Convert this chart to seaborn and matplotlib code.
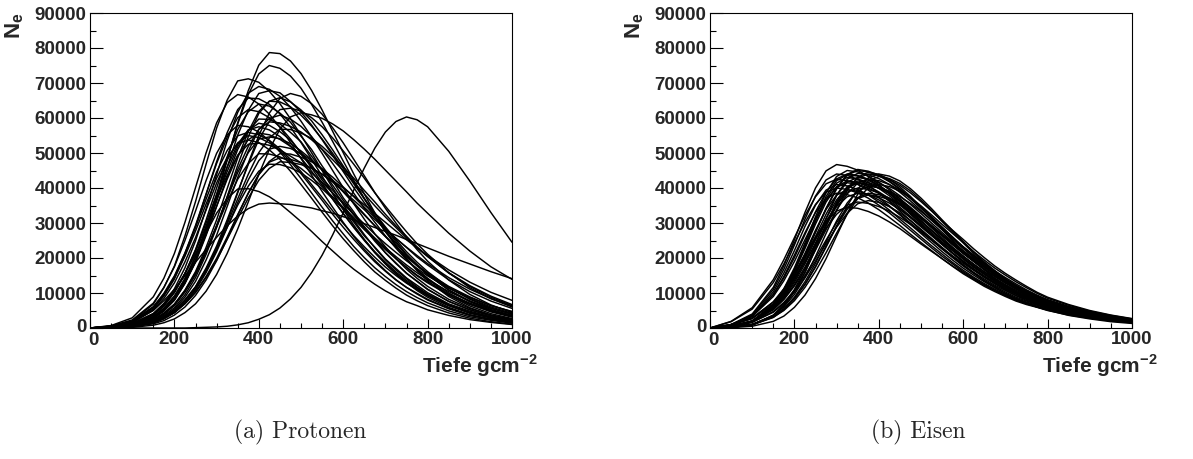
import matplotlib
matplotlib.use("Agg")
import matplotlib.pyplot as plt
import matplotlib.transforms as mtransforms
import pandas as pd
import seaborn as sns
from matplotlib.ticker import MultipleLocator

# atmospheric depth grid (g/cm^2)
depth = [0, 50, 100, 150, 175, 200, 225, 250, 275, 300, 325, 350, 375, 400, 425, 450, 475,
         500, 525, 550, 575, 600, 625, 650, 675, 700, 725, 750, 775, 800, 850, 900, 950, 1000]

# ---- proton showers: N_e in units of 1000 ----
p01 = [0, 0.2, 0.8, 2.8, 5.0, 8.1, 12.9, 19.2, 27.6, 37.2, 47.9, 58.6, 67.8, 75.1, 78.7, 78.4, 76.3, 72.7, 67.9, 62.3, 56.2, 50.1, 44.0, 38.3, 32.9, 28.0, 23.6, 19.8, 16.4, 13.5, 9.0, 5.8, 3.7, 2.4]
p02 = [0, 0.2, 0.9, 3.1, 5.4, 8.7, 13.7, 20.3, 28.6, 38.1, 48.4, 58.3, 66.7, 72.6, 75.0, 74.2, 72.0, 68.5, 63.9, 58.8, 53.3, 47.7, 42.2, 37.0, 32.0, 27.5, 23.5, 19.9, 16.6, 14.1, 9.4, 6.3, 4.1, 2.7]
p03 = [0, 0.5, 2.0, 6.8, 11.5, 17.7, 26.3, 36.1, 46.8, 57.1, 65.1, 70.6, 71.2, 70.2, 67.6, 64.1, 59.8, 55.1, 50.1, 45.0, 40.0, 35.3, 30.8, 26.7, 22.9, 19.5, 16.6, 14.1, 11.7, 9.7, 6.6, 4.4, 3.0, 1.9]
p04 = [0, 0.7, 2.9, 8.9, 14.2, 21.3, 30.2, 40.1, 50.0, 58.6, 64.4, 66.7, 66.0, 64.0, 61.1, 57.3, 53.0, 48.4, 43.7, 39.0, 34.5, 30.2, 26.1, 22.5, 19.3, 16.4, 13.8, 11.6, 9.7, 8.0, 5.5, 3.6, 2.4, 1.5]
p05 = [0, 0.3, 1.2, 4.1, 6.9, 11.2, 17.2, 24.9, 34.0, 43.8, 53.5, 61.6, 67.1, 69.0, 68.2, 66.2, 63.1, 59.1, 54.6, 49.9, 45.0, 40.1, 35.5, 31.1, 26.9, 23.2, 19.8, 16.8, 14.2, 11.9, 8.2, 5.6, 3.7, 2.5]
p06 = [0, 0.1, 0.7, 2.6, 4.8, 7.9, 12.7, 18.9, 27.0, 36.2, 45.9, 55.1, 62.2, 67.0, 67.8, 67.2, 64.7, 61.7, 58.0, 53.8, 49.3, 44.7, 40.1, 35.8, 31.7, 27.7, 24.2, 20.8, 17.8, 15.2, 10.9, 7.7, 5.3, 3.6]
p07 = [0, 0.1, 0.4, 1.5, 2.7, 4.5, 7.3, 11.1, 16.2, 22.6, 30.2, 38.6, 47.1, 55.0, 61.4, 65.6, 67.0, 66.2, 64.1, 61.1, 57.2, 52.9, 48.2, 43.5, 38.7, 34.2, 30.0, 26.0, 22.4, 19.1, 13.7, 9.6, 6.6, 4.4]
p08 = [0, 0.1, 0.7, 2.3, 4.2, 6.8, 10.8, 16.1, 23.0, 30.9, 39.8, 48.6, 56.1, 61.9, 64.8, 64.6, 63.2, 60.8, 57.7, 54.0, 49.9, 45.6, 41.2, 36.9, 32.8, 28.9, 25.2, 21.8, 18.8, 16.1, 11.6, 8.2, 5.7, 3.9]
p09 = [0, 0.2, 1.0, 3.6, 6.2, 10.1, 15.5, 22.4, 30.8, 40.0, 48.9, 56.7, 61.8, 64.0, 63.4, 61.4, 58.8, 54.8, 51.0, 46.3, 42.1, 37.2, 33.2, 28.8, 25.3, 21.5, 18.6, 15.6, 13.4, 11.1, 7.6, 5.2, 3.5, 2.3]
p10 = [0, 0.1, 0.5, 1.7, 3.1, 5.0, 8.0, 11.8, 17.1, 23.4, 30.9, 38.9, 46.7, 53.9, 59.0, 62.4, 62.8, 62.0, 60.1, 57.5, 54.3, 50.6, 46.8, 42.8, 38.6, 34.8, 31.1, 27.5, 24.1, 21.1, 15.8, 11.5, 8.4, 6.0]
p11 = [0, 0.0, 0.2, 0.8, 1.5, 2.6, 4.4, 6.9, 10.5, 15.3, 21.3, 28.3, 36.0, 43.9, 51.0, 56.8, 60.3, 61.5, 60.9, 59.9, 58.3, 56.3, 53.8, 51.1, 48.2, 45.1, 42.0, 38.9, 35.7, 32.8, 27.1, 22.0, 17.5, 13.9]
p12 = [0, 0.1, 0.5, 1.8, 3.3, 5.4, 8.8, 13.3, 19.4, 26.5, 34.7, 43.0, 50.5, 56.7, 59.9, 60.8, 59.7, 57.6, 54.7, 51.0, 47.0, 42.8, 38.5, 34.2, 30.2, 26.3, 22.8, 19.5, 16.7, 14.2, 10.0, 6.9, 4.6, 3.1]
p13 = [0, 0.5, 1.8, 5.8, 9.5, 14.6, 21.4, 29.3, 38.2, 47.0, 54.5, 60.1, 62.4, 61.8, 60.1, 57.5, 54.0, 50.0, 45.8, 41.4, 36.9, 32.7, 28.7, 25.0, 21.5, 18.4, 15.6, 13.2, 11.2, 9.3, 6.4, 4.2, 2.9, 1.9]
p14 = [0, 0.6, 2.3, 7.1, 11.6, 17.5, 25.0, 33.4, 42.1, 49.9, 55.2, 57.9, 57.5, 56.0, 53.5, 50.3, 46.7, 42.7, 38.6, 34.5, 30.6, 26.9, 23.3, 20.1, 17.2, 14.7, 12.4, 10.4, 8.7, 7.2, 4.9, 3.2, 2.2, 1.4]
p15 = [0, 0.3, 1.1, 3.8, 6.5, 10.3, 15.6, 22.2, 30.0, 38.2, 46.0, 52.5, 56.6, 57.5, 56.6, 54.7, 52.0, 48.6, 44.8, 40.8, 36.8, 32.7, 28.9, 25.2, 21.8, 18.8, 16.0, 13.6, 11.5, 9.6, 6.6, 4.5, 3.0, 2.0]
p16 = [0, 0.5, 2.0, 6.1, 9.9, 14.9, 21.4, 28.8, 36.8, 44.6, 50.7, 54.9, 55.9, 55.2, 53.6, 51.2, 48.2, 44.7, 41.0, 37.3, 33.5, 29.9, 26.4, 23.2, 20.2, 17.4, 15.0, 12.8, 11.0, 9.2, 6.4, 4.4, 3.0, 2.1]
p17 = [0, 0.2, 0.9, 3.1, 5.4, 8.7, 13.5, 19.5, 26.8, 34.8, 42.5, 49.3, 53.8, 55.7, 55.2, 53.9, 51.9, 49.6, 46.2, 42.9, 39.4, 35.8, 32.3, 28.9, 25.6, 22.7, 19.9, 17.3, 14.9, 12.9, 9.4, 6.7, 4.8, 3.3]
p18 = [0, 0.1, 0.6, 2.1, 3.9, 6.4, 10.3, 15.2, 21.8, 29.2, 37.0, 44.4, 50.1, 54.0, 54.6, 54.1, 52.7, 50.6, 48.1, 45.4, 42.1, 38.9, 35.6, 32.3, 29.2, 26.1, 23.2, 20.6, 18.0, 15.7, 11.9, 8.9, 6.4, 4.7]
p19 = [0, 0.5, 1.9, 5.9, 9.5, 14.3, 20.5, 27.7, 35.4, 42.8, 48.7, 52.7, 53.7, 53.0, 50.9, 48.2, 44.8, 41.0, 37.1, 33.1, 29.2, 25.5, 22.1, 18.9, 16.0, 13.6, 11.4, 9.4, 7.8, 6.4, 4.3, 2.8, 1.8, 1.1]
p20 = [0, 0.1, 0.6, 2.3, 4.2, 6.8, 10.7, 15.7, 22.0, 28.9, 36.0, 42.5, 47.0, 49.8, 49.7, 48.9, 47.5, 45.6, 43.1, 40.4, 37.5, 34.5, 31.6, 28.5, 25.7, 22.9, 20.4, 18.0, 15.8, 13.8, 10.4, 7.7, 5.6, 4.0]
p21 = [0, 0.1, 0.3, 1.2, 2.1, 3.7, 6.0, 9.3, 13.7, 19.2, 25.5, 32.2, 38.5, 43.8, 47.4, 48.6, 48.2, 47.2, 45.7, 43.9, 41.7, 39.1, 36.5, 33.8, 31.0, 28.2, 25.6, 23.1, 20.7, 18.4, 14.4, 11.1, 8.4, 6.3]
p22 = [0, 0.1, 0.5, 1.7, 3.0, 4.9, 7.8, 11.6, 16.6, 22.4, 28.8, 35.1, 40.5, 44.8, 46.8, 46.7, 45.8, 44.3, 42.2, 39.8, 37.0, 34.1, 31.1, 28.1, 25.2, 22.4, 19.8, 17.4, 15.1, 13.2, 9.7, 7.1, 5.0, 3.5]
p23 = [0, 0.1, 0.5, 1.6, 2.7, 4.4, 6.9, 10.1, 14.4, 19.4, 25.3, 31.3, 37.1, 42.2, 45.6, 47.5, 47.3, 46.7, 45.6, 44.0, 42.1, 40.0, 37.7, 35.2, 32.7, 30.2, 27.7, 25.2, 22.9, 20.7, 16.6, 13.1, 10.2, 7.9]
p24 = [0, 0.3, 1.3, 4.1, 7.0, 10.6, 15.5, 21.1, 27.1, 32.8, 37.0, 39.7, 39.8, 39.0, 37.5, 35.5, 33.0, 30.4, 27.6, 24.7, 22.0, 19.3, 16.8, 14.6, 12.5, 10.6, 9.0, 7.5, 6.4, 5.2, 3.6, 2.4, 1.6, 1.0]
p25 = [0, 0.3, 1.5, 5.0, 7.8, 11.0, 14.9, 18.8, 22.4, 25.9, 29.2, 32.0, 34.1, 35.4, 35.7, 35.5, 35.3, 34.8, 34.3, 33.5, 32.8, 31.8, 30.9, 29.8, 28.7, 27.6, 26.5, 25.3, 24.1, 22.9, 20.5, 18.3, 16.1, 14.1]
p26 = [0, 0, 0, 0, 0, 0, 0, 0.1, 0.2, 0.3, 0.5, 0.9, 1.5, 2.5, 3.8, 5.7, 8.3, 11.6, 15.8, 20.8, 26.6, 32.9, 39.4, 45.7, 51.4, 56.0, 59.0, 60.3, 59.5, 57.5, 50.5, 42.0, 33.0, 24.5]
p27 = [0, 0.2, 0.7, 2.3, 4.1, 6.6, 10.5, 15.5, 22.0, 29.3, 37.4, 45.3, 51.9, 56.8, 58.9, 58.6, 57.6, 56.0, 53.8, 51.1, 48.1, 45.0, 41.7, 38.3, 34.9, 31.7, 28.7, 25.7, 22.9, 20.4, 15.8, 12.1, 9.1, 6.7]
p28 = [0, 0.3, 1.2, 3.9, 6.7, 10.3, 15.6, 21.8, 29.1, 36.7, 43.6, 49.3, 52.5, 52.8, 52.2, 50.9, 49.1, 47.2, 44.3, 41.6, 38.6, 35.6, 32.6, 29.7, 26.8, 24.1, 21.6, 19.2, 17.0, 14.9, 11.4, 8.7, 6.4, 4.7]
p29 = [0, 0.1, 0.5, 1.8, 3.2, 5.0, 8.0, 11.7, 16.8, 22.7, 29.7, 36.9, 43.9, 50.1, 54.3, 56.8, 56.7, 55.7, 54.2, 51.9, 49.1, 46.0, 42.8, 39.3, 36.0, 32.5, 29.2, 26.2, 23.2, 20.5, 15.7, 11.9, 8.8, 6.4]
p30 = [0, 0.2, 0.8, 2.8, 5.0, 8.1, 12.9, 18.8, 26.4, 34.7, 43.1, 51.0, 56.4, 59.7, 59.6, 58.3, 55.9, 53.2, 49.1, 45.1, 40.8, 36.5, 32.5, 28.6, 24.8, 21.5, 18.4, 15.7, 13.3, 11.0, 7.6, 5.2, 3.5, 2.4]
p31 = [0, 0.4, 1.7, 5.4, 9.1, 14.0, 20.9, 28.9, 38.2, 47.5, 55.8, 62.4, 65.7, 65.5, 63.9, 61.2, 57.4, 53.0, 48.2, 43.4, 38.4, 33.8, 29.4, 25.3, 21.6, 18.3, 15.4, 13.0, 10.7, 8.8, 5.9, 3.8, 2.5, 1.6]
p32 = [0, 0.1, 0.4, 1.4, 2.6, 4.4, 7.1, 10.8, 15.8, 21.8, 28.7, 35.8, 42.3, 47.8, 51.1, 51.9, 51.3, 49.9, 47.8, 45.2, 42.3, 39.1, 35.8, 32.5, 29.2, 26.2, 23.1, 20.3, 17.8, 15.5, 11.4, 8.4, 6.0, 4.2]
p33 = [0, 0.2, 0.9, 3.3, 5.7, 9.2, 14.2, 20.5, 28.2, 36.6, 44.7, 51.8, 56.5, 58.5, 57.9, 56.1, 53.7, 50.1, 46.6, 42.3, 38.5, 34.0, 30.3, 26.3, 23.1, 19.7, 17.0, 14.3, 12.2, 10.1, 6.9, 4.8, 3.2, 2.1]
p34 = [0, 0.4, 1.6, 5.1, 8.4, 12.9, 18.9, 25.8, 33.7, 41.4, 48.0, 52.9, 55.0, 54.4, 52.9, 50.7, 47.6, 44.1, 40.3, 36.5, 32.5, 28.8, 25.3, 22.0, 18.9, 16.2, 13.7, 11.6, 9.9, 8.2, 5.6, 3.7, 2.6, 1.7]
p35 = [0, 0.1, 0.5, 1.9, 3.6, 5.8, 9.5, 14.4, 21.0, 28.7, 37.5, 46.5, 54.6, 61.3, 64.8, 65.8, 64.6, 62.3, 59.2, 55.2, 50.9, 46.3, 41.7, 37.0, 32.7, 28.5, 24.7, 21.1, 18.1, 15.4, 10.8, 7.5, 5.0, 3.4]
p36 = [0, 0.1, 0.4, 1.6, 2.8, 4.4, 7.0, 10.3, 14.7, 19.9, 26.0, 32.4, 38.5, 43.9, 47.6, 49.8, 49.7, 48.8, 47.5, 45.5, 43.1, 40.3, 37.5, 34.5, 31.6, 28.5, 25.6, 23.0, 20.3, 18.0, 13.8, 10.4, 7.7, 5.6]

# ---- iron showers: N_e in units of 1000 ----
fe01 = [0, 1.0, 4.0, 11.6, 17.8, 25.2, 33.0, 40.0, 44.9, 46.7, 46.2, 45.1, 43.3, 41.0, 38.4, 35.5, 32.5, 29.7, 26.8, 24.0, 21.3, 18.8, 16.6, 14.5, 12.6, 10.9, 9.3, 8.2, 7.1, 6.1, 4.5, 3.4, 2.5, 1.9]
fe02 = [0, 0.9, 3.7, 11.0, 16.8, 23.7, 31.1, 37.7, 42.3, 44.0, 43.6, 42.5, 40.8, 38.6, 36.2, 33.4, 30.7, 27.9, 25.2, 22.6, 20.1, 17.7, 15.6, 13.6, 11.9, 10.3, 8.8, 7.7, 6.7, 5.8, 4.3, 3.2, 2.3, 1.8]
fe03 = [0, 1.9, 5.8, 13.8, 19.5, 25.8, 32.1, 37.5, 41.2, 42.5, 42.1, 41.0, 39.4, 37.3, 34.9, 32.3, 29.6, 27.0, 24.4, 21.8, 19.4, 17.1, 15.1, 13.2, 11.5, 9.9, 8.5, 7.4, 6.5, 5.6, 4.1, 3.1, 2.3, 1.7]
fe04 = [0, 1.8, 5.4, 13.0, 18.3, 24.3, 30.2, 35.3, 38.8, 40.0, 39.6, 38.6, 37.1, 35.1, 32.9, 30.4, 27.9, 25.4, 22.9, 20.5, 18.3, 16.1, 14.2, 12.4, 10.8, 9.3, 8.0, 7.0, 6.1, 5.2, 3.9, 2.9, 2.1, 1.6]
fe05 = [0, 0.4, 2.0, 6.8, 11.2, 17.2, 24.3, 31.8, 38.6, 43.3, 45.0, 44.6, 43.4, 41.7, 39.5, 37.0, 34.2, 31.4, 28.6, 25.8, 23.1, 20.6, 18.1, 16.0, 14.0, 12.2, 10.5, 9.0, 7.9, 6.8, 5.1, 3.8, 2.8, 2.1]
fe06 = [0, 1.0, 3.5, 9.5, 14.3, 20.1, 26.7, 33.2, 38.8, 42.6, 44.0, 43.6, 42.5, 40.8, 38.6, 36.2, 33.4, 30.7, 27.9, 25.2, 22.6, 20.1, 17.7, 15.6, 13.6, 11.9, 10.3, 8.8, 7.7, 6.7, 5.0, 3.7, 2.7, 2.0]
fe07 = [0, 0.4, 1.9, 6.5, 10.7, 16.4, 23.2, 30.4, 36.9, 41.4, 43.0, 42.6, 41.5, 39.9, 37.8, 35.3, 32.7, 30.0, 27.3, 24.6, 22.1, 19.7, 17.3, 15.3, 13.3, 11.6, 10.0, 8.6, 7.5, 6.5, 4.9, 3.6, 2.7, 2.0]
fe08 = [0, 0.9, 3.3, 9.0, 13.5, 19.0, 25.2, 31.3, 36.6, 40.2, 41.5, 41.1, 40.0, 38.5, 36.4, 34.1, 31.5, 28.9, 26.4, 23.8, 21.3, 19.0, 16.7, 14.7, 12.9, 11.2, 9.7, 8.3, 7.3, 6.3, 4.7, 3.5, 2.6, 1.9]
fe09 = [0, 0.4, 1.7, 6.0, 9.9, 15.1, 21.3, 27.9, 33.9, 38.0, 39.5, 39.1, 38.1, 36.6, 34.7, 32.5, 30.0, 27.5, 25.1, 22.6, 20.3, 18.1, 15.9, 14.0, 12.2, 10.7, 9.2, 7.9, 6.9, 6.0, 4.5, 3.3, 2.4, 1.8]
fe10 = [0, 0.5, 2.0, 6.1, 9.8, 14.7, 20.7, 27.5, 34.2, 40.0, 43.9, 45.3, 44.8, 43.7, 42.0, 39.8, 37.2, 34.4, 31.6, 28.8, 26.0, 23.2, 20.7, 18.3, 16.1, 14.0, 12.2, 10.6, 9.1, 7.9, 5.9, 4.4, 3.3, 2.4]
fe11 = [0, 0.2, 0.9, 3.7, 6.7, 11.0, 16.8, 23.8, 31.2, 37.9, 42.5, 44.2, 43.8, 42.7, 41.0, 38.8, 36.3, 33.6, 30.8, 28.1, 25.3, 22.7, 20.2, 17.8, 15.7, 13.7, 11.9, 10.3, 8.8, 7.7, 5.8, 4.3, 3.2, 2.3]
fe12 = [0, 0.5, 1.9, 5.8, 9.3, 14.0, 19.7, 26.1, 32.5, 37.9, 41.7, 43.0, 42.6, 41.5, 39.9, 37.8, 35.3, 32.7, 30.0, 27.3, 24.6, 22.1, 19.7, 17.3, 15.3, 13.3, 11.6, 10.0, 8.6, 7.5, 5.6, 4.2, 3.1, 2.3]
fe13 = [0, 0.2, 0.9, 3.5, 6.3, 10.4, 15.8, 22.4, 29.3, 35.6, 39.9, 41.5, 41.1, 40.0, 38.5, 36.4, 34.1, 31.5, 28.9, 26.4, 23.8, 21.3, 19.0, 16.7, 14.7, 12.9, 11.2, 9.7, 8.3, 7.3, 5.4, 4.0, 3.0, 2.2]
fe14 = [0, 0.4, 1.8, 5.4, 8.7, 13.0, 18.3, 24.3, 30.2, 35.3, 38.8, 40.0, 39.6, 38.6, 37.1, 35.1, 32.9, 30.4, 27.9, 25.4, 22.9, 20.5, 18.3, 16.1, 14.2, 12.4, 10.8, 9.3, 8.0, 7.0, 5.2, 3.9, 2.9, 2.1]
fe15 = [0, 0.9, 2.9, 7.4, 10.9, 15.2, 20.2, 25.5, 30.5, 34.7, 37.5, 38.5, 38.1, 37.2, 35.7, 33.8, 31.6, 29.3, 26.8, 24.4, 22.1, 19.8, 17.6, 15.5, 13.7, 11.9, 10.4, 9.0, 7.7, 6.7, 5.0, 3.7, 2.8, 2.0]
fe16 = [0, 0.2, 1.0, 3.5, 6.0, 9.6, 14.4, 20.4, 27.0, 33.6, 39.3, 43.1, 44.5, 43.9, 42.5, 40.3, 37.6, 34.5, 31.3, 28.1, 25.0, 21.9, 19.1, 16.6, 14.2, 12.1, 10.2, 8.6, 7.4, 6.2, 4.4, 3.2, 2.2, 1.6]
fe17 = [0, 0.5, 1.9, 5.2, 8.1, 12.0, 16.8, 22.3, 28.1, 33.7, 38.3, 41.4, 42.5, 42.1, 41.0, 39.4, 37.3, 34.9, 32.3, 29.6, 27.0, 24.4, 21.8, 19.4, 17.1, 15.1, 13.2, 11.5, 9.9, 8.5, 6.5, 4.8, 3.6, 2.6]
fe18 = [0, 0.2, 0.9, 3.2, 5.5, 8.8, 13.2, 18.5, 24.6, 30.6, 35.7, 39.2, 40.5, 40.1, 39.1, 37.5, 35.6, 33.3, 30.8, 28.2, 25.7, 23.2, 20.8, 18.5, 16.3, 14.4, 12.6, 10.9, 9.4, 8.1, 6.2, 4.6, 3.4, 2.5]
fe19 = [0, 0.5, 1.7, 4.7, 7.3, 10.7, 15.0, 19.9, 25.1, 30.1, 34.3, 37.0, 38.0, 37.6, 36.7, 35.2, 33.4, 31.2, 28.9, 26.5, 24.1, 21.8, 19.5, 17.4, 15.3, 13.5, 11.8, 10.3, 8.9, 7.6, 5.8, 4.3, 3.2, 2.4]
fe20 = [0, 0.5, 1.6, 4.5, 7.0, 10.3, 14.4, 19.1, 24.1, 28.8, 32.8, 35.5, 36.4, 35.9, 34.7, 32.9, 30.7, 28.2, 25.6, 23.0, 20.4, 17.9, 15.7, 13.5, 11.6, 9.9, 8.4, 7.1, 6.0, 5.1, 3.6, 2.6, 1.8, 1.3]
fe21 = [0, 0.3, 1.1, 3.3, 5.4, 8.4, 12.4, 17.4, 23.1, 29.1, 34.9, 39.7, 42.9, 44.0, 43.4, 42.0, 39.8, 37.1, 34.1, 30.9, 27.8, 24.7, 21.7, 18.9, 16.4, 14.0, 12.0, 10.1, 8.5, 7.3, 5.2, 3.7, 2.6, 1.8]
fe22 = [0, 0.1, 0.5, 1.9, 3.4, 5.9, 9.4, 14.1, 19.8, 26.3, 32.7, 38.2, 42.0, 43.3, 42.7, 41.3, 39.2, 36.5, 33.6, 30.4, 27.4, 24.3, 21.3, 18.6, 16.1, 13.8, 11.8, 10.0, 8.4, 7.2, 5.1, 3.6, 2.6, 1.8]
fe23 = [0, 0.3, 1.0, 3.1, 5.0, 7.8, 11.6, 16.2, 21.5, 27.1, 32.5, 37.0, 40.0, 41.0, 40.4, 39.1, 37.1, 34.6, 31.8, 28.8, 25.9, 23.0, 20.2, 17.6, 15.3, 13.1, 11.2, 9.4, 8.0, 6.8, 4.8, 3.4, 2.4, 1.7]
fe24 = [0, 0.8, 3.3, 9.6, 14.7, 20.8, 27.2, 33.0, 37.0, 38.5, 38.1, 37.2, 35.7, 33.8, 31.6, 29.3, 26.8, 24.4, 22.1, 19.8, 17.6, 15.5, 13.7, 11.9, 10.4, 9.0, 7.7, 6.7, 5.9, 5.0, 3.7, 2.8, 2.0, 1.5]
fe25 = [0, 0.8, 2.7, 7.5, 11.2, 15.8, 20.9, 26.0, 30.4, 33.4, 34.5, 34.2, 33.3, 32.0, 30.3, 28.4, 26.2, 24.0, 21.9, 19.8, 17.7, 15.8, 13.9, 12.2, 10.7, 9.3, 8.0, 6.9, 6.0, 5.2, 3.9, 2.9, 2.1, 1.6]
fe26 = [0, 0.9, 2.7, 6.9, 10.1, 14.2, 18.9, 23.8, 28.5, 32.5, 35.1, 36.0, 35.6, 34.7, 33.4, 31.6, 29.6, 27.4, 25.1, 22.9, 20.6, 18.5, 16.5, 14.5, 12.8, 11.2, 9.7, 8.4, 7.2, 6.3, 4.7, 3.5, 2.6, 1.9]
fe27 = [0, 0.4, 1.8, 6.3, 10.5, 16.0, 22.7, 29.7, 36.0, 40.4, 42.0, 41.6, 40.5, 38.9, 36.9, 34.5, 31.9, 29.3, 26.7, 24.1, 21.5, 19.2, 16.9, 14.9, 13.0, 11.3, 9.8, 8.4, 7.4, 6.4, 4.7, 3.5, 2.6, 1.9]
fe28 = [0, 0.2, 0.9, 3.6, 6.3, 10.5, 16.0, 22.7, 29.7, 36.0, 40.4, 42.0, 41.6, 40.5, 38.9, 36.9, 34.5, 31.9, 29.3, 26.7, 24.1, 21.5, 19.2, 16.9, 14.9, 13.0, 11.3, 9.8, 8.4, 7.4, 5.5, 4.1, 3.0, 2.2]
fe29 = [0, 0.4, 1.9, 6.6, 10.9, 16.7, 23.6, 30.9, 37.6, 42.1, 43.8, 43.4, 42.2, 40.6, 38.4, 36.0, 33.3, 30.6, 27.8, 25.1, 22.5, 20.0, 17.6, 15.6, 13.6, 11.9, 10.2, 8.8, 7.7, 6.6, 5.0, 3.7, 2.7, 2.0]
fe30 = [0, 0.5, 1.8, 5.6, 9.0, 13.5, 19.0, 25.2, 31.3, 36.6, 40.2, 41.5, 41.0, 40.0, 38.5, 36.5, 34.1, 31.5, 28.9, 26.4, 23.8, 21.3, 19.0, 16.8, 14.7, 12.8, 11.2, 9.7, 8.3, 7.2, 5.4, 4.0, 3.0, 2.2]
fe31 = [0, 0.5, 2.0, 5.4, 8.4, 12.4, 17.4, 23.1, 29.1, 34.9, 39.6, 42.8, 44.0, 43.6, 42.4, 40.8, 38.6, 36.1, 33.4, 30.6, 27.9, 25.3, 22.6, 20.1, 17.7, 15.6, 13.7, 11.9, 10.2, 8.8, 6.7, 5.0, 3.7, 2.7]
fe32 = [0, 0.5, 2.0, 6.1, 9.7, 14.7, 20.6, 27.3, 34.0, 39.7, 43.7, 45.0, 44.6, 43.5, 41.8, 39.6, 37.0, 34.2, 31.4, 28.6, 25.8, 23.1, 20.6, 18.1, 16.0, 13.9, 12.1, 10.5, 9.0, 7.9, 5.9, 4.4, 3.2, 2.4]
fe33 = [0, 0.8, 3.4, 10.3, 15.7, 22.1, 29.0, 35.1, 39.4, 41.0, 40.6, 39.6, 38.0, 36.0, 33.7, 31.1, 28.6, 26.0, 23.5, 21.1, 18.7, 16.5, 14.5, 12.7, 11.1, 9.6, 8.2, 7.2, 6.2, 5.4, 4.0, 3.0, 2.1, 1.7]
fe34 = [0, 0.2, 0.9, 3.0, 5.2, 8.4, 12.5, 17.6, 23.4, 29.1, 33.9, 37.2, 38.5, 38.1, 37.1, 35.6, 33.8, 31.6, 29.3, 26.8, 24.4, 22.0, 19.8, 17.6, 15.5, 13.7, 12.0, 10.4, 8.9, 7.7, 5.9, 4.4, 3.2, 2.4]

proton_showers = [p01, p02, p03, p04, p05, p06, p07, p08, p09, p10, p11, p12, p13, p14, p15, p16, p17, p18,
                  p19, p20, p21, p22, p23, p24, p25, p26, p27, p28, p29, p30, p31, p32, p33, p34, p35, p36]
iron_showers = [fe01, fe02, fe03, fe04, fe05, fe06, fe07, fe08, fe09, fe10, fe11, fe12, fe13, fe14, fe15, fe16, fe17,
                fe18, fe19, fe20, fe21, fe22, fe23, fe24, fe25, fe26, fe27, fe28, fe29, fe30, fe31, fe32, fe33, fe34]

x_ticks = [0, 200, 400, 600, 800, 1000]
y_ticks = [0, 10000, 20000, 30000, 40000, 50000, 60000, 70000, 80000, 90000]
captions = ["(a) Protonen", "(b) Eisen"]
x_title = r"Tiefe gcm$^{\mathbf{-2}}$"
y_title = r"$\mathbf{N_e}$"

for s in proton_showers + iron_showers:
    assert len(s) == len(depth), len(s)


def long_frame(showers):
    rows = []
    for k, shower in enumerate(showers):
        for x, v in zip(depth, shower):
            rows.append((k, x, v * 1000.0))
    return pd.DataFrame(rows, columns=["shower", "depth", "Ne"])


sns.set_style("ticks")
plt.rcParams["font.family"] = ["Liberation Sans", "DejaVu Sans"]
plt.rcParams["mathtext.fontset"] = "custom"
plt.rcParams["mathtext.rm"] = "Liberation Sans"
plt.rcParams["mathtext.bf"] = "Liberation Sans:bold"

W, H = 1193, 459
fig = plt.figure(figsize=(W / 100, H / 100), dpi=100)
fig.patch.set_facecolor("white")
ax_p = fig.add_axes([90 / W, 131 / H, 422 / W, 315 / H])
ax_f = fig.add_axes([710 / W, 131 / H, 422 / W, 315 / H])

panels = [(ax_p, proton_showers, captions[0], 300 / W),
          (ax_f, iron_showers, captions[1], 918 / W)]

for ax, showers, cap, cx in panels:
    sns.lineplot(data=long_frame(showers), x="depth", y="Ne", units="shower",
                 estimator=None, color="black", linewidth=1.05, ax=ax,
                 legend=False, sort=False)
    ax.set_facecolor("white")
    ax.set_xlim(0, 1000)
    ax.set_ylim(0, 90000)
    ax.set_xticks(x_ticks)
    ax.set_yticks(y_ticks)
    ax.set_xticklabels([str(v) for v in x_ticks], fontweight="bold", fontsize=13.5)
    ax.set_yticklabels([str(v) for v in y_ticks], fontweight="bold", fontsize=13.5)
    ax.xaxis.set_minor_locator(MultipleLocator(50))
    ax.yaxis.set_minor_locator(MultipleLocator(5000))
    ax.tick_params(which="both", direction="in", top=False, right=False,
                   width=0.8, color="black")
    ax.tick_params(axis="y", which="major", length=9, pad=2.5)
    ax.tick_params(axis="y", which="minor", length=4.5)
    ax.tick_params(axis="x", which="major", length=6.7, pad=2.5)
    ax.tick_params(axis="x", which="minor", length=3.3)
    # keep the two corner "0" labels side by side, as in the reference
    ax.get_xticklabels()[0].set_transform(
        ax.get_xticklabels()[0].get_transform()
        + mtransforms.ScaledTranslation(3 / 100, -1 / 100, fig.dpi_scale_trans))
    ax.get_yticklabels()[0].set_transform(
        ax.get_yticklabels()[0].get_transform()
        + mtransforms.ScaledTranslation(0, 3 / 100, fig.dpi_scale_trans))
    for sp in ax.spines.values():
        sp.set_visible(True)
        sp.set_linewidth(0.8)
        sp.set_color("black")
    ax.set_xlabel(x_title, fontweight="bold", fontsize=15, loc="right")
    ax.xaxis.set_label_coords(1.06, -0.078)
    ax.set_ylabel(y_title, fontsize=16, loc="top")
    ax.yaxis.set_label_coords(-0.152, 1.0)
    fig.text(cx, 1 - 432 / H, cap, family="cmr10", fontsize=17,
             ha="center", va="center")

fig.savefig("out.png", dpi=100, facecolor="white")
